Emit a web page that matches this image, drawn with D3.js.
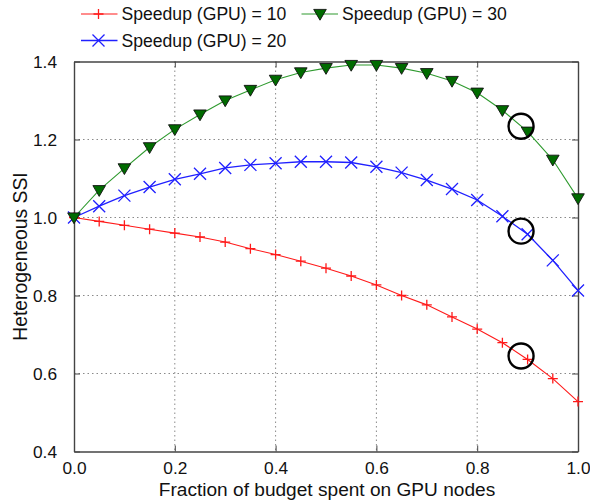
<!DOCTYPE html>
<html>
<head>
<meta charset="utf-8">
<script src="https://cdn.jsdelivr.net/npm/d3@7/dist/d3.min.js"></script>
<style>
  body { margin: 0; background: #fff; }
  text { font-family: "Liberation Sans", Arial, Helvetica, sans-serif; fill: #111; }
</style>
</head>
<body>
<div id="chart"></div>
<script>
// fraction of budget spent on GPU nodes
const budgetFraction = [0, 0.05, 0.1, 0.15, 0.2, 0.25, 0.3, 0.35, 0.4, 0.45, 0.5,
  0.55, 0.6, 0.65, 0.7, 0.75, 0.8, 0.85, 0.9, 0.95, 1.0];

// heterogeneous SSI
const ssiSpeedup10 = [1.0, 0.99, 0.98, 0.97, 0.96, 0.95, 0.937, 0.92, 0.905, 0.888, 0.87,
  0.85, 0.827, 0.80, 0.776, 0.745, 0.714, 0.679, 0.636, 0.587, 0.528];
const ssiSpeedup20 = [1.0, 1.029, 1.056, 1.078, 1.098, 1.112, 1.127, 1.135, 1.139, 1.143, 1.143,
  1.141, 1.13, 1.115, 1.096, 1.073, 1.045, 1.003, 0.957, 0.89, 0.813];
const ssiSpeedup30 = [1.0, 1.07, 1.126, 1.18, 1.226, 1.264, 1.30, 1.327, 1.353, 1.372, 1.383,
  1.391, 1.391, 1.383, 1.37, 1.35, 1.32, 1.275, 1.22, 1.148, 1.049];

const seriesNames = ["Speedup (GPU) = 10", "Speedup (GPU) = 20", "Speedup (GPU) = 30"];

const xTicks = [0, 0.2, 0.4, 0.6, 0.8, 1.0];
const yTicks = [0.4, 0.6, 0.8, 1.0, 1.2, 1.4];

// the black circles marking the chosen operating points
const highlightX = [0.887, 0.887, 0.887];
const highlightY = [1.234, 0.965, 0.645];

const config = {
  width: 590,
  height: 504,
  margin: { top: 61.5, right: 12, bottom: 52.5, left: 74 },
  tickLen: 6,
};

const innerW = config.width - config.margin.left - config.margin.right;
const innerH = config.height - config.margin.top - config.margin.bottom;

const svg = d3.select("#chart").append("svg")
  .attr("width", config.width)
  .attr("height", config.height);

const chart = svg.append("g")
  .attr("transform", `translate(${config.margin.left},${config.margin.top})`);

const x = d3.scaleLinear().domain([0, 1]).range([0, innerW]);
const y = d3.scaleLinear().domain([0.4, 1.4]).range([innerH, 0]);

// dotted grid
chart.append("g").selectAll("line")
  .data(xTicks.slice(1, -1))
  .join("line")
  .attr("x1", d => x(d)).attr("x2", d => x(d))
  .attr("y1", 0).attr("y2", innerH)
  .attr("stroke", "#8a8a8a").attr("stroke-width", 1)
  .attr("stroke-dasharray", "1.5,3");

chart.append("g").selectAll("line")
  .data(yTicks.slice(1, -1))
  .join("line")
  .attr("y1", d => y(d)).attr("y2", d => y(d))
  .attr("x1", 0).attr("x2", innerW)
  .attr("stroke", "#8a8a8a").attr("stroke-width", 1)
  .attr("stroke-dasharray", "1.5,3");

// axes with inward ticks on all four sides
const axisBottom = chart.append("g")
  .attr("transform", `translate(0,${innerH})`)
  .call(d3.axisBottom(x).tickValues(xTicks).tickFormat(d3.format(".1f"))
    .tickSizeInner(-config.tickLen).tickSizeOuter(0).tickPadding(10));
const axisLeft = chart.append("g")
  .call(d3.axisLeft(y).tickValues(yTicks).tickFormat(d3.format(".1f"))
    .tickSizeInner(-config.tickLen).tickSizeOuter(0).tickPadding(17));
const axisTop = chart.append("g")
  .call(d3.axisTop(x).tickValues(xTicks).tickFormat("")
    .tickSizeInner(-config.tickLen).tickSizeOuter(0));
const axisRight = chart.append("g")
  .attr("transform", `translate(${innerW},0)`)
  .call(d3.axisRight(y).tickValues(yTicks).tickFormat("")
    .tickSizeInner(-config.tickLen).tickSizeOuter(0));

[axisBottom, axisLeft, axisTop, axisRight].forEach(a => {
  a.select(".domain").attr("stroke", "#444").attr("stroke-width", 1.4);
  a.selectAll(".tick line").attr("stroke", "#444").attr("stroke-width", 1);
  a.selectAll("text").attr("font-size", 17.3).attr("fill", "#111")
    .attr("font-family", '"Liberation Sans", Arial, sans-serif');
});
axisBottom.selectAll("text").attr("dy", "0.71em");

// axis titles
svg.append("text")
  .attr("x", config.margin.left + innerW / 2 + 1)
  .attr("y", 495.5)
  .attr("text-anchor", "middle")
  .attr("font-size", 19.1)
  .text("Fraction of budget spent on GPU nodes");

svg.append("text")
  .attr("transform", "translate(26.5,256.5) rotate(-90)")
  .attr("text-anchor", "middle")
  .attr("font-size", 19.3)
  .text("Heterogeneous SSI");

// marker shapes
const plusPath = "M-5,0H5M0,-5V5";
const crossPath = "M-6,-6L6,6M-6,6L6,-6";
const triPath = "M-6.3,-4.6L6.3,-4.6L0,6.2Z";

const series = [
  { name: seriesNames[0], values: ssiSpeedup10, color: "#ff1a1a", marker: plusPath, fill: "none", stroke: "#ff1a1a", width: 1.1 },
  { name: seriesNames[1], values: ssiSpeedup20, color: "#2020ff", marker: crossPath, fill: "none", stroke: "#2020ff", width: 1.3 },
  { name: seriesNames[2], values: ssiSpeedup30, color: "#2e9a2e", marker: triPath, fill: "#006b00", stroke: "#111", width: 1.1 },
];

const line = d3.line()
  .x((d, i) => x(budgetFraction[i]))
  .y(d => y(d));

series.forEach(s => {
  chart.append("path")
    .datum(s.values)
    .attr("fill", "none")
    .attr("stroke", s.color)
    .attr("stroke-width", s.width)
    .attr("d", line);

  chart.append("g").selectAll("path")
    .data(s.values)
    .join("path")
    .attr("transform", (d, i) => `translate(${x(budgetFraction[i])},${y(d)})`)
    .attr("d", s.marker)
    .attr("fill", s.fill)
    .attr("stroke", s.stroke)
    .attr("stroke-width", s.fill === "none" ? 1.3 : 0.9);
});

// highlight circles
chart.append("g").selectAll("circle")
  .data(highlightY)
  .join("circle")
  .attr("cx", (d, i) => x(highlightX[i]))
  .attr("cy", d => y(d))
  .attr("r", 12.5)
  .attr("fill", "none")
  .attr("stroke", "#000")
  .attr("stroke-width", 2.4);

// legend: two columns, first column stacked
const legendPos = [
  { x0: 81, y0: 14 },
  { x0: 81, y0: 40.5 },
  { x0: 301.5, y0: 14 },
];

const legend = svg.append("g");
series.forEach((s, i) => {
  const p = legendPos[i];
  const g = legend.append("g").attr("transform", `translate(${p.x0},${p.y0})`);
  g.append("line")
    .attr("x1", 0).attr("x2", 36.5)
    .attr("y1", 0).attr("y2", 0)
    .attr("stroke", s.color).attr("stroke-width", s.width);
  g.append("path")
    .attr("transform", `translate(${i === 2 ? 18.5 : 17.5},0)`)
    .attr("d", s.marker)
    .attr("fill", s.fill)
    .attr("stroke", s.stroke)
    .attr("stroke-width", s.fill === "none" ? 1.3 : 0.9);
  g.append("text")
    .attr("x", 40.5)
    .attr("y", 6.3)
    .attr("font-size", 17.6)
    .text(s.name);
});
</script>
</body>
</html>
